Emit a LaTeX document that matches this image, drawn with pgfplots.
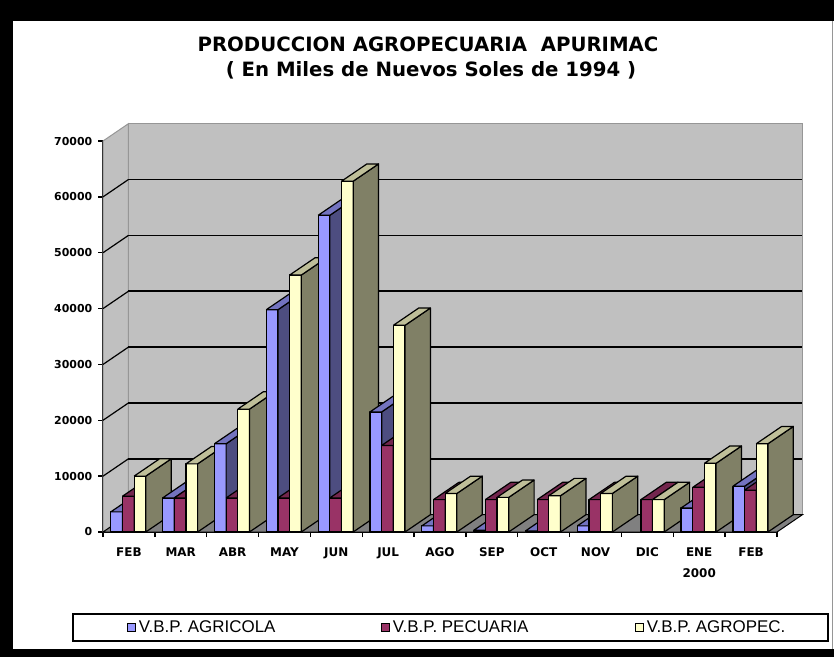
\documentclass[border=0pt]{standalone}
\usepackage{fontspec}
\usepackage{pgfplots}
\pgfplotsset{compat=1.18}
\usepackage{pgfplotstable}
\setmainfont{DejaVu Sans}
\newfontfamily\legfont{Liberation Sans}

\definecolor{wallgray}{RGB}{192,192,192}
\definecolor{walledge}{RGB}{150,150,150}
\definecolor{floorgray}{RGB}{128,128,128}
\definecolor{agrf}{RGB}{153,153,255}
\definecolor{agrs}{RGB}{77,77,128}
\definecolor{agrt}{RGB}{115,115,191}
\definecolor{pecf}{RGB}{153,51,102}
\definecolor{pecs}{RGB}{77,26,51}
\definecolor{pect}{RGB}{115,38,77}
\definecolor{agrof}{RGB}{255,255,204}
\definecolor{agros}{RGB}{128,128,102}
\definecolor{agrot}{RGB}{191,191,153}

% values in thousands of 1994 nuevos soles
\pgfplotstableread{
m agr pec agro
0 3600 6400 10000
1 6100 6100 12200
2 15800 6100 22000
3 39800 6100 46000
4 56700 6100 62800
5 21500 15500 37000
6 1100 5800 6900
7 300 5800 6200
8 200 5800 6500
9 1100 5800 6900
10 0 5800 5800
11 4300 8000 12300
12 8200 7500 15800
}\datatable

\newcommand\dx{0.49}
\newcommand\dy{3100}
\newcommand\bw{0.225}

\pgfplotsset{barface/.style={draw=black, line width=1.2bp, line join=round, forget plot}}

\newcommand\drawbar[3]{%
  \pgfplotstablegetelem{#1}{#2}\of\datatable
  \edef\bv{\pgfplotsretval}%
  \ifnum\bv>0
  \pgfmathsetmacro\xl{#1+0.15+#3*\bw}%
  \pgfmathsetmacro\xr{\xl+\bw}%
  \pgfmathsetmacro\xlb{\xl+\dx}%
  \pgfmathsetmacro\xrb{\xr+\dx}%
  \edef\bvb{\the\numexpr\bv+\dy\relax}%
  \edef\cmd{%
   \noexpand\addplot[barface, fill=#2f] coordinates {(\xl,0) (\xr,0) (\xr,\bv) (\xl,\bv) (\xl,0)};
   \noexpand\addplot[barface, fill=#2s] coordinates {(\xr,0) (\xrb,\dy) (\xrb,\bvb) (\xr,\bv) (\xr,0)};
   \noexpand\addplot[barface, fill=#2t] coordinates {(\xl,\bv) (\xr,\bv) (\xrb,\bvb) (\xlb,\bvb) (\xl,\bv)};
  }%
  \cmd
  \fi
}

\begin{document}
\begin{tikzpicture}
\useasboundingbox (0bp,0bp) rectangle (834bp,-657bp);
\fill[black] (0bp,0bp) rectangle (834bp,-657bp);
\fill[white] (13bp,-21bp) rectangle (834bp,-649bp);
\draw[walledge, line width=1bp] (832.5bp,-21bp) -- (832.5bp,-649bp);
\node[font=\bfseries\fontsize{19.8}{22}\selectfont, anchor=base, inner sep=0pt] at (428bp,-51bp) {PRODUCCION AGROPECUARIA\ \ APURIMAC};
\node[font=\bfseries\fontsize{19.8}{22}\selectfont, anchor=base, inner sep=0pt] at (431bp,-76bp) {( En Miles de Nuevos Soles de 1994 )};
\draw[black, line width=1.5bp] (73bp,-614bp) rectangle (828bp,-641bp);
\begin{axis}[
  at={(103bp,-532bp)}, anchor=south west,
  scale only axis, width=674bp, height=391bp,
  xmin=0, xmax=13, ymin=0, ymax=70000,
  clip=false,
  axis x line*=bottom, axis y line*=left,
  axis line style={line width=1.6bp, black},
  tick align=outside, major tick length=5bp,
  tick style={black, line width=1.4bp},
  scaled y ticks=false,
  ytick={0,10000,20000,30000,40000,50000,60000,70000},
  yticklabels={0,10000,20000,30000,40000,50000,60000,70000},
  yticklabel style={font=\bfseries\fontsize{11}{13}\selectfont, inner sep=2.5bp, xshift=-3bp},
  xtick={0,1,...,13},
  xticklabels={,,,,,,,,,,,,,},
  extra x ticks={0.5,1.5,...,12.5},
  extra x tick labels={FEB,MAR,ABR,MAY,JUN,JUL,AGO,SEP,OCT,NOV,DIC,{ENE\\2000},FEB},
  extra x tick style={tick style={draw=none}},
  xticklabel style={font=\bfseries\fontsize{12}{21}\selectfont, align=center, yshift=-7bp},
  legend image code/.code={\draw[#1, draw=black, line width=1bp] (0bp,-4bp) rectangle (8bp,4bp);},
  legend columns=3,
  legend style={at={(axis description cs:0.036,-0.244)}, anchor=west, draw=none, fill=none,
     inner sep=0pt, font=\legfont\fontsize{17}{19}\selectfont,
     nodes={inner sep=2.5bp}, /tikz/column sep=0pt},
]
% walls and floor
\addplot[fill=wallgray, draw=walledge, line width=1bp, forget plot] coordinates {(\dx,\dy) (13.49,\dy) (13.49,73100) (\dx,73100) (\dx,\dy)};
\addplot[fill=wallgray, draw=walledge, line width=1bp, forget plot] coordinates {(0,0) (\dx,\dy) (\dx,73100) (0,70000) (0,0)};
\addplot[fill=floorgray, draw=black, line width=1bp, forget plot] coordinates {(0,0) (13,0) (13.49,\dy) (\dx,\dy) (0,0)};
% gridlines
\pgfplotsforeachungrouped \k in {10000,20000,30000,40000,50000,60000}{%
  \edef\kb{\the\numexpr\k+\dy\relax}%
  \edef\cmd{%
    \noexpand\addplot[black, line width=1.6bp, forget plot] coordinates {(\dx,\kb) (13.49,\kb)};
    \noexpand\addplot[black, line width=1.2bp, forget plot] coordinates {(0,\k) (\dx,\kb)};
  }\cmd
}
% bars
\pgfplotsforeachungrouped \i in {0,...,12}{%
  \drawbar{\i}{agr}{0}%
  \drawbar{\i}{pec}{1}%
  \drawbar{\i}{agro}{2}%
}
\addlegendimage{fill=agrf}
\addlegendentry{\makebox[240bp][l]{V.B.P. AGRICOLA}}
\addlegendimage{fill=pecf}
\addlegendentry{\makebox[240bp][l]{V.B.P. PECUARIA}}
\addlegendimage{fill=agrof}
\addlegendentry{V.B.P. AGROPEC.}
\end{axis}
\end{tikzpicture}
\end{document}
